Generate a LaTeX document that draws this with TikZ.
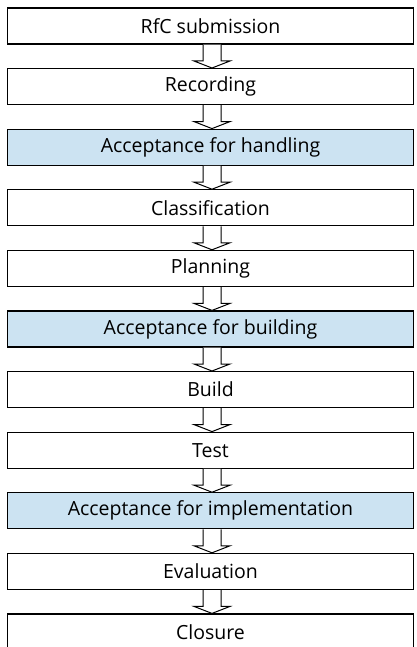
\documentclass[tikz,border=0pt]{standalone}
\usepackage{fontspec}
\setmainfont{Open Sans}
\usepackage{xcolor}
\usepackage{tikz}

\definecolor{stepblue}{RGB}{204,227,242}

\begin{document}
\begin{tikzpicture}[x=1pt,y=1pt,
  stage/.style={draw=black,line width=1.2pt,minimum width=406pt,minimum height=36pt,inner sep=0pt,font=\fontsize{19.5}{22}\selectfont},
  gate/.style={stage,fill=stepblue},
  hollow/.style={draw=black,line width=1pt,fill=white,line join=miter}]
\useasboundingbox (0,0) rectangle (417,-647);
\begin{scope}
\clip (0,0) rectangle (417,-647);
\node[stage] (1) at (210.5,-26) {RfC submission};

\node[stage] (2) at (210.5,-86.6) {Recording};

\node[gate] (3) at (210.5,-147.2) {Acceptance for handling};

\node[stage] (4) at (210.5,-207.8) {Classification};

\node[stage] (5) at (210.5,-268.4) {Planning};

\node[gate] (6) at (210.5,-329) {Acceptance for building};

\node[stage] (7) at (210.5,-389.6) {Build};

\node[stage] (8) at (210.5,-450.2) {Test};

\node[gate] (9) at (210.5,-510.8) {Acceptance for implementation};

\node[stage] (10) at (210.5,-571.4) {Evaluation};

\node[stage] (11) at (210.5,-632) {Closure};

\foreach \a/\b in {1/2,2/3,3/4,4/5,5/6,6/7,7/8,8/9,9/10,10/11}
  \draw[hollow] ([xshift=-7.5pt]\a.south) -- ([xshift=-7.5pt,yshift=7pt]\b.north)
    -- ([xshift=-16.5pt,yshift=7pt]\b.north) -- ([xshift=1.5pt]\b.north)
    -- ([xshift=19.5pt,yshift=7pt]\b.north) -- ([xshift=10.5pt,yshift=7pt]\b.north)
    -- ([xshift=10.5pt]\a.south);
\end{scope}
\end{tikzpicture}
\end{document}
